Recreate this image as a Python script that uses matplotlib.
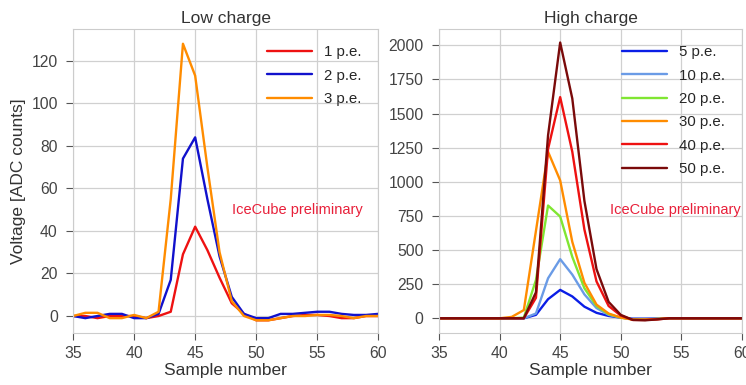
import numpy as np
import matplotlib
matplotlib.use("Agg")
import matplotlib.pyplot as plt
import seaborn as sns

sns.set_style("whitegrid")
plt.rcParams["font.family"] = ["Liberation Sans", "DejaVu Sans"]

samples = np.arange(35, 61)

# low charge waveforms (ADC counts)
low_labels = ["1 p.e.", "2 p.e.", "3 p.e."]
low_colors = ["#ee1111", "#1111cc", "#ff8c00"]
pe1 = [0, 0, -1, 0, 0, 0, -1, 0, 2, 29, 42, 31, 18, 6, 1, -2, -2, -1, 0, 0.5, 0.5, 0, -1, -1, 0, 0]
pe2 = [0, -1, 0, 1, 1, -1, -1, 1, 17, 74, 84, 55, 28, 9, 1, -1, -1, 1, 1, 1.5, 2, 2, 1, 0.5, 0.5, 1]
pe3 = [0, 1.5, 1.5, -1, -1, 0.5, -1, 2, 55, 128, 113, 70, 30, 7, 0, -2, -2, -1, 0, 0, 0.5, 0.5, 0, -1, 0, 0]

# high charge waveforms (ADC counts)
high_labels = ["5 p.e.", "10 p.e.", "20 p.e.", "30 p.e.", "40 p.e.", "50 p.e."]
high_colors = ["#0a1ee6", "#6a9be6", "#80e632", "#ff8c00", "#ee1111", "#7a0a0a"]
pe5 = [0, 0, 0, 0, 0, 0, 0, 0, 25, 140, 208, 160, 85, 40, 17, 5, -3, -3, -2, 0, 0, 0, 0, 0, 0, 0]
pe10 = [0, 0, 0, 0, 0, 0, 0, 0, 35, 293, 433, 320, 175, 75, 25, 5, -5, -5, -3, 0, 0, 0, 0, 0, 0, 0]
pe20 = [0, 0, 0, 0, 0, 0, 0, 5, 280, 826, 745, 450, 220, 90, 30, 5, -8, -8, -5, 0, 0, 0, 0, 0, 0, 0]
pe30 = [0, 0, 0, 0, 0, 0, 10, 60, 640, 1220, 1010, 560, 260, 100, 35, 5, -10, -10, -5, 0, 0, 0, 0, 0, 0, 0]
pe40 = [0, 0, 0, 0, 0, 0, 0, 0, 150, 1240, 1620, 1220, 650, 270, 90, 20, -12, -12, -8, 0, 0, 0, 0, 0, 0, 0]
pe50 = [0, 0, 0, 0, 0, 0, 0, 0, 190, 1340, 2020, 1610, 860, 360, 120, 25, -12, -15, -8, 0, 0, 0, 0, 0, 0, 0]

low = [pe1, pe2, pe3]
high = [pe5, pe10, pe20, pe30, pe40, pe50]

fig = plt.figure(figsize=(7.46, 3.85), dpi=100)
ax1 = fig.add_axes([0.098, 0.135, 0.409, 0.79])
ax2 = fig.add_axes([0.5885, 0.135, 0.406, 0.79])

for ax, series, labels, colors in [(ax1, low, low_labels, low_colors),
                                    (ax2, high, high_labels, high_colors)]:
    for y, lab, c in zip(series, labels, colors):
        ax.plot(samples, y, color=c, lw=1.7, label=lab)
    ax.set_xlim(35, 60)
    ax.set_xticks([35, 40, 45, 50, 55, 60])
    ax.set_xlabel("Sample number", fontsize=12.5, color="#333333", labelpad=2)
    ax.tick_params(axis="both", bottom=True, left=True, length=5, color="#555555",
                   labelsize=11.3, labelcolor="#444444")
    ax.tick_params(axis="x", pad=4)
    ax.tick_params(axis="y", pad=6)
    for s in ax.spines.values():
        s.set_color("#cccccc")
    ax.grid(color="#d0d0d0", lw=0.9)
    ax.legend(loc="upper right", frameon=False, fontsize=10.8, handlelength=3,
              handletextpad=0.8, labelspacing=0.62, borderaxespad=0.7)

ax1.set_ylim(-8, 135)
ax1.set_yticks([0, 20, 40, 60, 80, 100, 120])
ax1.set_ylabel("Voltage [ADC counts]", fontsize=12.5, color="#333333", labelpad=4)
ax1.set_title("Low charge", fontsize=12.5, color="#333333", pad=4)
ax1.text(0.948, 0.405, "IceCube preliminary", transform=ax1.transAxes, ha="right",
         va="center", color="#e8203a", fontsize=10.5)

ax2.set_ylim(-108, 2120)
ax2.set_yticks([0, 250, 500, 750, 1000, 1250, 1500, 1750, 2000])
ax2.set_title("High charge", fontsize=12.5, color="#333333", pad=4)
ax2.text(0.995, 0.405, "IceCube preliminary", transform=ax2.transAxes, ha="right",
         va="center", color="#e8203a", fontsize=10.5)

fig.savefig("out.png", dpi=100)
